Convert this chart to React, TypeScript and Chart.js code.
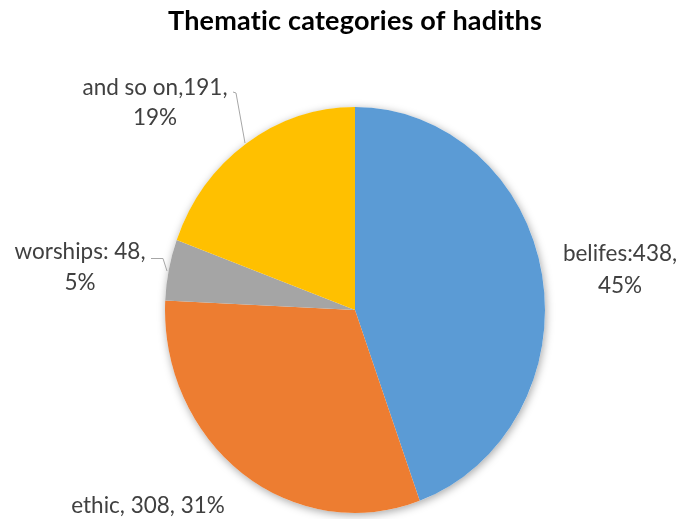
import React, { useEffect, useRef } from "react";
import { Chart, registerables } from "chart.js";

Chart.register(...registerables);

const titleText = "Thematic categories of hadiths";
const categories = ["belifes", "ethic", "worships", "and so on"];
const counts = [438, 308, 48, 191];
const percents = [45, 31, 5, 19];
const colors = ["#5B9BD5", "#ED7D31", "#A5A5A5", "#FFC000"];

const labelLines: string[][] = [
  [`${categories[0]}:${counts[0]},`, `${percents[0]}%`],
  [`${categories[1]}, ${counts[1]}, ${percents[1]}%`],
  [`${categories[2]}: ${counts[2]},`, `${percents[2]}%`],
  [`${categories[3]},${counts[3]},`, `${percents[3]}%`],
];

// label layout (positions in canvas pixels)
const labelLayout = [
  { x: 620, ys: [261, 293] },
  { x: 148, ys: [513] },
  { x: 80, ys: [259, 290] },
  { x: 155, ys: [95, 125] },
];
const leaderLines: (number[][] | null)[] = [
  null,
  null,
  [[151, 258.5], [163, 258.5], [167, 271]],
  [[233, 92], [236, 93], [245, 143]],
];

const Y_STRETCH = 203 / 190;

const piePlugin = {
  id: "pieCustom",
  beforeDraw(chart: any) {
    // non-zero letter spacing disables the "ti" ligature of Lato
    (chart.ctx as any).letterSpacing = "0.2px";
  },
  beforeDatasetsDraw(chart: any) {
    const ctx = chart.ctx;
    const arc = chart.getDatasetMeta(0).data[0];
    if (!arc) return;
    const cx = arc.x, cy = arc.y, r = arc.outerRadius;
    ctx.save();
    ctx.save();
    ctx.beginPath();
    ctx.ellipse(cx, cy, r, r * Y_STRETCH, 0, 0, Math.PI * 2);
    ctx.shadowColor = "rgba(0,0,0,0.35)";
    ctx.shadowBlur = 9;
    ctx.shadowOffsetX = 1;
    ctx.shadowOffsetY = 2;
    ctx.fillStyle = "#ffffff";
    ctx.fill();
    ctx.restore();
    ctx.translate(cx, cy);
    ctx.scale(1, Y_STRETCH);
    ctx.translate(-cx, -cy);
  },
  afterDatasetsDraw(chart: any) {
    const ctx = chart.ctx;
    ctx.restore();
    ctx.save();
    ctx.font = "22.5px Lato";
    (ctx as any).letterSpacing = "0px";
    ctx.fillStyle = "#404040";
    ctx.textAlign = "center";
    ctx.textBaseline = "alphabetic";
    labelLines.forEach((lines, i) => {
      const lay = labelLayout[i];
      lines.forEach((t, j) => ctx.fillText(t, lay.x, lay.ys[j]));
    });
    ctx.strokeStyle = "#A6A6A6";
    ctx.lineWidth = 1;
    leaderLines.forEach((pts) => {
      if (!pts) return;
      ctx.beginPath();
      pts.forEach((p, k) => (k === 0 ? ctx.moveTo(p[0], p[1]) : ctx.lineTo(p[0], p[1])));
      ctx.stroke();
    });
    ctx.restore();
  },
  afterDraw(chart: any) {
    (chart.ctx as any).letterSpacing = "0px";
  },
};

export default function App() {
  const ref = useRef<HTMLCanvasElement | null>(null);
  useEffect(() => {
    if (!ref.current) return;
    const chart = new Chart(ref.current, {
      type: "pie",
      data: {
        labels: categories,
        datasets: [
          {
            data: counts,
            backgroundColor: colors,
            borderWidth: 0,
            clip: false as any,
          },
        ],
      },
      options: {
        responsive: false,
        devicePixelRatio: 1,
        animation: false,
        layout: { padding: { left: 165, right: 138, top: 0, bottom: 19 } },
        plugins: {
          legend: { display: false },
          tooltip: { enabled: false },
          title: {
            display: true,
            text: titleText,
            color: "#000000",
            font: { family: "Lato", size: 27, weight: "bold", lineHeight: 1.2 },
            padding: { top: 5, bottom: 82.6 },
          },
        },
      },
      plugins: [piePlugin],
    });
    return () => chart.destroy();
  }, []);
  return (
    <div style={{ position: "absolute", left: 0, top: 0, width: 683, height: 519, background: "#fff" }}>
      <canvas ref={ref} width={683} height={519} />
    </div>
  );
}
